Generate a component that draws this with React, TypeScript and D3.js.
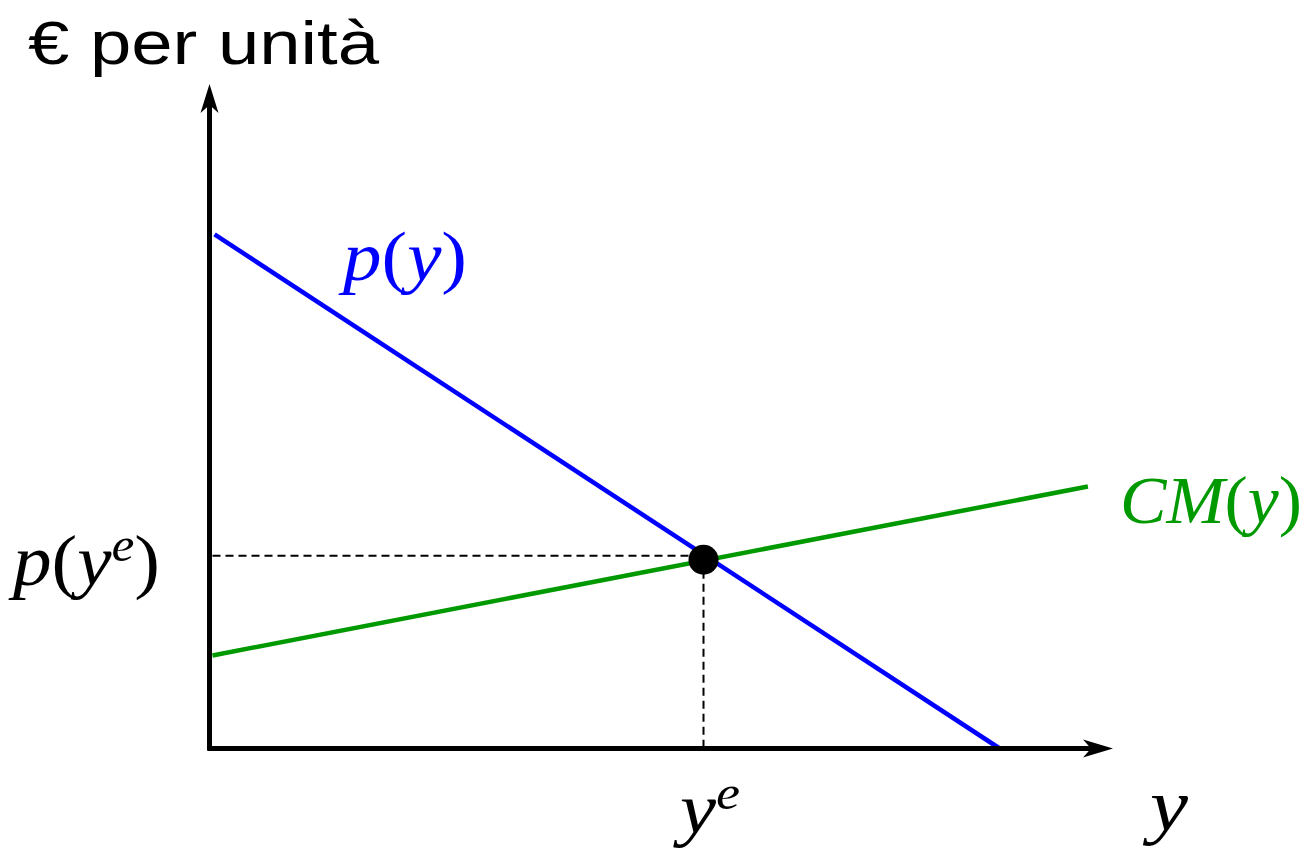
import React from "react";
import * as d3 from "d3";

// Data (abstract units: quantity y on x-axis, € per unit on vertical axis)
const demandX = [0.56, 87.8];
const demandP = [77.9, 0];
const costX = [0.33, 97.6];
const costP = [14.1, 39.7];
const eqY = [55.0];
const eqP = [28.9];
const labels = ["€ per unità", "p(y)", "CM(y)", "p(yᵉ)", "yᵉ", "y"];

const W = 1313;
const H = 851;

export default function App() {
  const x = d3.scaleLinear().domain([0, 100]).range([209.5, 1109.5]);
  const yS = d3.scaleLinear().domain([0, 100]).range([748.5, 88.5]);
  const line = d3
    .line<[number, number]>()
    .x((d) => x(d[0]))
    .y((d) => yS(d[1]));
  const demand: [number, number][] = demandX.map((v, i) => [v, demandP[i]]);
  const cost: [number, number][] = costX.map((v, i) => [v, costP[i]]);
  const ex = x(eqY[0]);
  const ey = yS(eqP[0]);
  const x0 = x(0);
  const y0 = yS(0);
  const serif = "'Liberation Serif', 'Times New Roman', serif";

  return (
    <svg
      width={W}
      height={H}
      style={{ position: "absolute", left: 0, top: 0, background: "#fff" }}
    >
      {/* dashed guides */}
      <line x1={x0 + 3} y1={ey - 2} x2={ex} y2={ey - 2} stroke="#000" strokeWidth={2} strokeDasharray="8,5" />
      <line x1={ex - 1} y1={ey} x2={ex - 1} y2={y0} stroke="#000" strokeWidth={2} strokeDasharray="8,5" />

      {/* curves */}
      <path d={line(demand) || ""} fill="none" stroke="#0000ff" strokeWidth={4.5} />
      <path d={line(cost) || ""} fill="none" stroke="#009900" strokeWidth={4.5} />

      {/* axes */}
      <line x1={x0} y1={y0 + 2} x2={x0} y2={100} stroke="#000" strokeWidth={5} />
      <path d={`M${x0},84 L${x0 + 9},113 L${x0},105 L${x0 - 9},113 Z`} fill="#000" />
      <line x1={x0 - 2} y1={y0} x2={1095} y2={y0} stroke="#000" strokeWidth={5} />
      <path d={`M1113,${y0} L1083,${y0 - 9} L1091,${y0} L1083,${y0 + 9} Z`} fill="#000" />

      {/* equilibrium */}
      <circle cx={ex - 1} cy={ey + 2} r={15} fill="#000" />

      {/* title */}
      <text
        x={28}
        y={64}
        fontFamily="'Liberation Sans', Arial, sans-serif"
        fontSize={62}
        textLength={351}
        lengthAdjust="spacingAndGlyphs"
      >
        {labels[0]}
      </text>

      {/* p(y) */}
      <text x={343} y={280} fontFamily={serif} fontSize={70} fill="#0000ff" textLength={124} lengthAdjust="spacingAndGlyphs">
        <tspan fontStyle="italic">p</tspan>
        <tspan>(</tspan>
        <tspan fontStyle="italic">y</tspan>
        <tspan>)</tspan>
      </text>

      {/* CM(y) */}
      <text x={1120} y={523} fontFamily={serif} fontSize={68} fill="#009900" textLength={182} lengthAdjust="spacingAndGlyphs">
        <tspan fontStyle="italic">CM</tspan>
        <tspan>(</tspan>
        <tspan fontStyle="italic">y</tspan>
        <tspan>)</tspan>
      </text>

      {/* p(y^e) */}
      <text x={13} y={585} fontFamily={serif} fontSize={72} fill="#000" textLength={147} lengthAdjust="spacingAndGlyphs">
        <tspan fontStyle="italic">p</tspan>
        <tspan>(</tspan>
        <tspan fontStyle="italic">y</tspan>
        <tspan fontStyle="italic" fontSize={48} dy={-24}>e</tspan>
        <tspan dy={24}>)</tspan>
      </text>

      {/* y^e */}
      <text x={680} y={833} fontFamily={serif} fontSize={72} fill="#000" textLength={60} lengthAdjust="spacingAndGlyphs">
        <tspan fontStyle="italic">y</tspan>
        <tspan fontStyle="italic" fontSize={48} dy={-24}>e</tspan>
      </text>

      {/* y */}
      <text x={1150} y={830} fontFamily={serif} fontSize={74} fontStyle="italic" fill="#000" textLength={38} lengthAdjust="spacingAndGlyphs">
        {labels[5]}
      </text>
    </svg>
  );
}
